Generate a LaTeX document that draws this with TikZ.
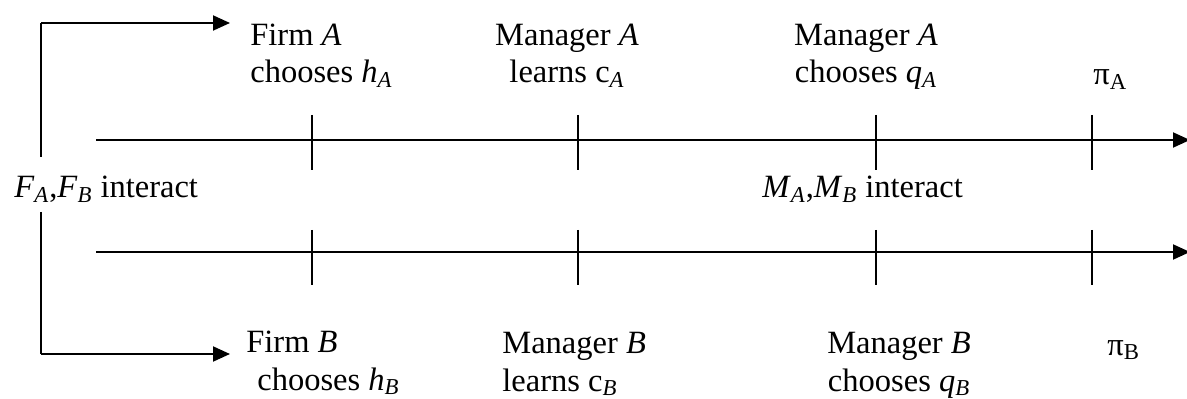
\documentclass[tikz,border=0pt]{standalone}
\usepackage{fontspec}
\setmainfont{Liberation Serif}
\usetikzlibrary{arrows.meta}
\tikzstyle{none}=[inner sep=0pt]
\tikzstyle{words}=[inner sep=0pt,font=\fontsize{18.5}{21.5}\selectfont]
\tikzstyle{arrow}=[-{Triangle[length=0.34cm,width=0.3cm]},draw=black,line width=1.1pt]
\tikzstyle{simple}=[-,draw=black,line width=1.1pt]
\tikzstyle{notch}=[-,draw=black,line width=0.8pt]

\begin{document}
\begin{tikzpicture}
  \useasboundingbox (0, 0) rectangle (23.74, -7.98);
  \node [style=none] (0) at (0.82, -0.46) {};
  \node [style=none] (1) at (4.6, -0.46) {};
  \node [style=none] (2) at (0.82, -3.14) {};
  \node [style=none] (3) at (0.82, -4.24) {};
  \node [style=none] (4) at (0.82, -7.08) {};
  \node [style=none] (5) at (4.6, -7.08) {};
  \node [style=none] (6) at (1.92, -2.8) {};
  \node [style=none] (7) at (23.8, -2.8) {};
  \node [style=none] (8) at (1.92, -5.04) {};
  \node [style=none] (9) at (23.8, -5.04) {};
  \node [style=none] (10) at (6.24, -2.3) {};
  \node [style=none] (11) at (6.24, -3.4) {};
  \node [style=none] (12) at (11.56, -2.3) {};
  \node [style=none] (13) at (11.56, -3.4) {};
  \node [style=none] (14) at (17.52, -2.3) {};
  \node [style=none] (15) at (17.52, -3.4) {};
  \node [style=none] (16) at (21.84, -2.3) {};
  \node [style=none] (17) at (21.84, -3.4) {};
  \node [style=none] (18) at (6.24, -4.6) {};
  \node [style=none] (19) at (6.24, -5.7) {};
  \node [style=none] (20) at (11.56, -4.6) {};
  \node [style=none] (21) at (11.56, -5.7) {};
  \node [style=none] (22) at (17.52, -4.6) {};
  \node [style=none] (23) at (17.52, -5.7) {};
  \node [style=none] (24) at (21.84, -4.6) {};
  \node [style=none] (25) at (21.84, -5.7) {};
  \node [style=words, anchor=base west, align=left] (26) at (5.0, -1.66) {Firm \textit{A}\\chooses \textit{h}\textsubscript{\textit{A}}};
  \node [style=words, anchor=base, align=center] (27) at (11.34, -1.66) {Manager \textit{A}\\learns c\textsubscript{\textit{A}}};
  \node [style=words, anchor=base, align=center] (28) at (17.32, -1.66) {Manager \textit{A}\\chooses \textit{q}\textsubscript{\textit{A}}};
  \node [style=words, anchor=base west] (29) at (21.86, -1.7) {π\textsubscript{A}};
  \node [style=words, anchor=base west] (30) at (0.28, -3.96) {\textit{F}\textsubscript{\textit{A}},\textit{F}\textsubscript{\textit{B}} interact};
  \node [style=words, anchor=base west] (31) at (15.24, -3.96) {\textit{M}\textsubscript{\textit{A}},\textit{M}\textsubscript{\textit{B}} interact};
  \node [style=words, anchor=base west, align=left] (32) at (4.92, -7.8) {Firm \textit{B}\\\hspace{0.22cm}chooses \textit{h}\textsubscript{\textit{B}}};
  \node [style=words, anchor=base west, align=left] (33) at (10.04, -7.82) {Manager \textit{B}\\learns c\textsubscript{\textit{B}}};
  \node [style=words, anchor=base, align=center] (34) at (17.98, -7.82) {Manager \textit{B}\\chooses \textit{q}\textsubscript{\textit{B}}};
  \node [style=words, anchor=base west] (35) at (22.14, -7.1) {π\textsubscript{B}};
  \draw [style=simple] (2.center) to (0.center);
  \draw [style=arrow] (0.center) to (1.center);
  \draw [style=simple] (3.center) to (4.center);
  \draw [style=arrow] (4.center) to (5.center);
  \draw [style=arrow] (6.center) to (7.center);
  \draw [style=arrow] (8.center) to (9.center);
  \draw [style=notch] (10.center) to (11.center);
  \draw [style=notch] (12.center) to (13.center);
  \draw [style=notch] (14.center) to (15.center);
  \draw [style=notch] (16.center) to (17.center);
  \draw [style=notch] (18.center) to (19.center);
  \draw [style=notch] (20.center) to (21.center);
  \draw [style=notch] (22.center) to (23.center);
  \draw [style=notch] (24.center) to (25.center);
\end{tikzpicture}
\end{document}
